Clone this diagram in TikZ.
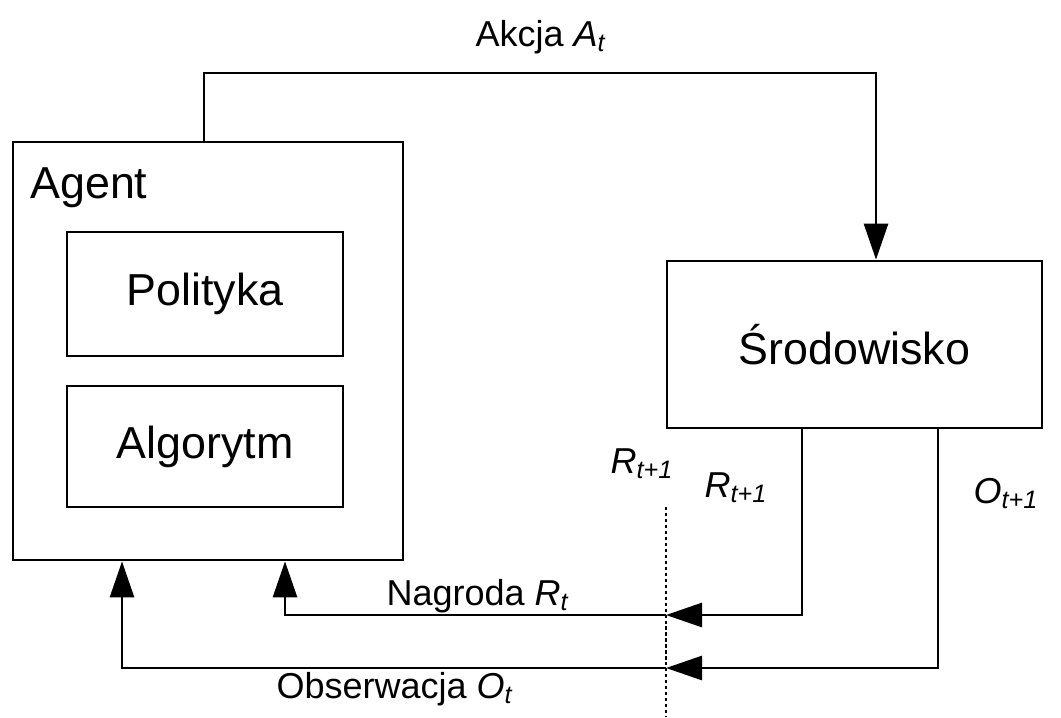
\documentclass[tikz,border=0pt]{standalone}
\usepackage{fontspec}
\setmainfont{Liberation Sans}
\usepackage{tikz}
\usetikzlibrary{arrows.meta,positioning}
\newcommand{\isub}[2]{\textit{#1}\textsubscript{\textit{#2}}}
\tikzset{
  box/.style={draw,line width=1.6pt,inner sep=0pt,align=center},
  big/.style={font=\fontsize{25.5}{30}\selectfont,inner sep=0pt},
  lbl/.style={font=\fontsize{20.5}{24}\selectfont,inner sep=0pt,anchor=base},
  arr/.style={-{Triangle[length=0.72cm,width=0.48cm]},line width=1.6pt},
  cut/.style={line width=1.6pt,dash pattern=on 1.8pt off 1.6pt},
}
\begin{document}
\begin{tikzpicture}[x=0.02cm,y=-0.02cm]
  \useasboundingbox (0,0) rectangle (1061,717);
  % blocks
  \node[box,minimum width=7.8cm,minimum height=8.36cm] (agent) at (208,351) {};
  \node[big,anchor=base west] (agentlbl) at (30,198) {Agent};
  \node[box,big,minimum width=5.52cm,minimum height=2.48cm] (pol) at (205,294) {Polityka};
  \node[box,big,minimum width=5.52cm,minimum height=2.42cm] (alg) at (205,446.5) {Algorytm};
  \node[box,big,minimum width=7.5cm,minimum height=3.34cm] (env) at (854.5,344.5) {Środowisko};
  % labels
  \node[lbl] (act) at (541,46) {Akcja \isub{A}{t}};
  \node[lbl] (rew) at (478,605) {Nagroda \isub{R}{t}};
  \node[lbl] (obs) at (395,698) {Obserwacja \isub{O}{t}};
  \node[lbl] (rold) at (642,473) {\isub{R}{t+1}};
  \node[lbl] (rnew) at (736,497) {\isub{R}{t+1}};
  \node[lbl] (onew) at (1006,503) {\isub{O}{t+1}};
  % corner points
  \coordinate (aup) at (204,73);
  \coordinate (adown) at (876,73);
  \coordinate (rx) at (802,615);
  \coordinate (rcut) at (666,615);
  \coordinate (rin) at (285,615);
  \coordinate (ox) at (938,668);
  \coordinate (ocut) at (666,668);
  \coordinate (oin) at (122,668);
  \coordinate (ctop) at (666,507);
  \coordinate (cbot) at (666,717);
  % action
  \draw[arr] (agent.north -| aup) -- (aup) -| (env.north -| adown);
  % reward
  \draw[arr] (env.south -| rx) -- (rx) -- (rcut);
  \draw[arr] (rcut) -| (agent.south -| rin);
  % observation
  \draw[arr] (env.south -| ox) -- (ox) -- (ocut);
  \draw[arr] (ocut) -| (agent.south -| oin);
  % time step boundary
  \draw[cut] (ctop) -- (cbot);
\end{tikzpicture}
\end{document}
